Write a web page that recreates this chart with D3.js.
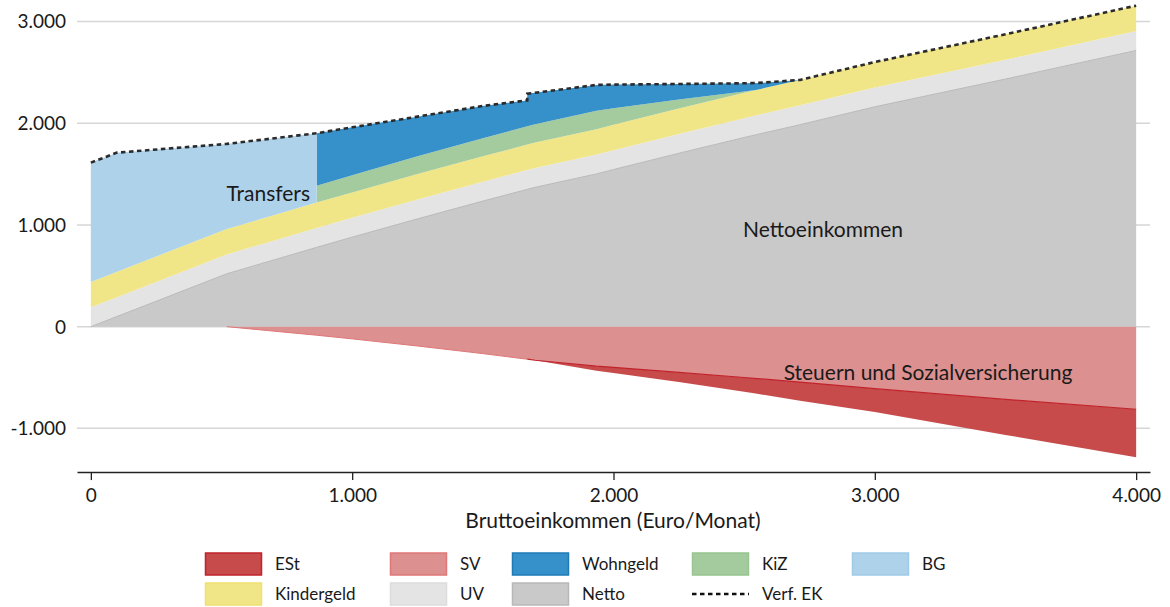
<!DOCTYPE html>
<html><head><meta charset="utf-8">
<script src="https://cdn.jsdelivr.net/npm/d3@7"></script>
<style>
html,body{margin:0;padding:0;background:#fff;}
svg text{font-family:Lato,"Open Sans",sans-serif;fill:#1a1a1a;}
</style></head>
<body>
<svg id="chart" width="1170" height="607"></svg>
<script>
// Bruttoeinkommen (Euro/Monat) – duplicate points mark jumps
const gross      = [0, 100, 520, 864, 864, 1000, 1250, 1500, 1670, 1670, 1700, 1935, 2000, 2250, 2500, 2550, 2714, 3000, 3500, 4000];
const netto      = [0, 100, 520, 780, 780,  880, 1060, 1235, 1350, 1350, 1370, 1502, 1545, 1705, 1860, 1890, 1986, 2162, 2435, 2716];
const uv         = [190,190,190,190,190,190,190,190,190,190,190,190,190,190,190,190,190,190,190,190];
const kindergeld = [250,250,250,250,250,250,250,250,250,250,250,250,250,250,250,250,250,250,250,250];
const kiz        = [0, 0, 0, 0, 166, 170, 175, 178, 180, 180, 180, 182, 162, 88, 12, 0, 0, 0, 0, 0];
const wohngeld   = [0, 0, 0, 0, 516, 470, 390, 317, 255, 320, 310, 253, 233, 153, 81, 66, 0, 0, 0, 0];
const bg         = [1173, 1171, 837, 682, 0, 0, 0, 0, 0, 0, 0, 0, 0, 0, 0, 0, 0, 0, 0, 0];
const sv         = [0, 0, 0, 84, 84, 120, 190, 265, 320, 320, 330, 388, 400, 450, 500, 510, 545, 610, 715, 812];
const est        = [0, 0, 0, 0, 0, 0, 0, 0, 0, 0, 0, 45, 55, 95, 140, 150, 183, 228, 350, 472];
const verfEK     = [1613, 1711, 1797, 1902, 1902, 1960, 2065, 2170, 2225, 2290, 2300, 2377, 2380, 2386, 2393, 2396, 2426, 2602, 2875, 3156];

const xTicks = [0, 1000, 2000, 3000, 4000];
const yTicks = [-1000, 0, 1000, 2000, 3000];

const posKeys = ["Netto","UV","Kindergeld","KiZ","Wohngeld","BG"];
const negKeys = ["SV","ESt"];
const fills = {Netto:"#c9c9c9",UV:"#e4e4e4",Kindergeld:"#f1e687",KiZ:"#a4cb9d",Wohngeld:"#3690c9",BG:"#aed2ea",SV:"#dc9090",ESt:"#c74b4b"};
const strokes = {Netto:"#b8b8b8",UV:"#dcdcdc",Kindergeld:"#efe070",KiZ:"#98c590",Wohngeld:"#1f7ab8",BG:"#9fcae6",SV:"#e07777",ESt:"#c0232b"};

const rows = gross.map((g,i)=>({g, Netto:netto[i], UV:uv[i], Kindergeld:kindergeld[i], KiZ:kiz[i], Wohngeld:wohngeld[i], BG:bg[i], SV:-sv[i], ESt:-est[i], V:verfEK[i]}));

const fmt = v => d3.format(",")(v).replace(/,/g,".").replace("−","-");

const svg = d3.select("#chart");
const x = d3.scaleLinear().domain([-53, 4053]).range([77, 1150]);
const y = d3.scaleLinear().domain([-1430, 3210]).range([472.1, 0.2]);

// gridlines
svg.append("g").selectAll("line").data(yTicks).join("line")
  .attr("x1", x.range()[0]).attr("x2", x.range()[1])
  .attr("y1", d=>y(d)).attr("y2", d=>y(d))
  .attr("stroke","#d6d6d6").attr("stroke-width",1.5);

// y labels
svg.append("g").selectAll("text").data(yTicks).join("text")
  .attr("x", 66).attr("y", d=>y(d)).attr("dy","0.36em")
  .attr("text-anchor","end").style("font-size","19px")
  .text(d=>fmt(d));

const posSeries = d3.stack().keys(posKeys)(rows);
const negSeries = d3.stack().keys(negKeys)(rows);
const area = d3.area().x(d=>x(d.data.g)).y0(d=>y(d[0])).y1(d=>y(d[1]));

svg.append("g").selectAll("path").data(posSeries.concat(negSeries)).join("path")
  .attr("d", area)
  .attr("fill", d=>fills[d.key]);

// edge lines
const nettoTop = posSeries[0];
svg.append("path").datum(nettoTop)
  .attr("d", d3.line().x(d=>x(d.data.g)).y(d=>y(d[1])))
  .attr("fill","none").attr("stroke","#b9b9b9").attr("stroke-width",1);
const estS = negSeries[1];
svg.append("path").datum(estS.filter(d=>d.data.g>=1670))
  .attr("d", d3.line().x(d=>x(d.data.g)).y(d=>y(d[0])))
  .attr("fill","none").attr("stroke",strokes.ESt).attr("stroke-width",1.2);
svg.append("path").datum(estS.filter(d=>d.data.g<=1670 && d.data.g>=520))
  .attr("d", d3.line().x(d=>x(d.data.g)).y(d=>y(d[0])))
  .attr("fill","none").attr("stroke",strokes.SV).attr("stroke-width",1);

// Verf. EK dashed line
svg.append("path").datum(rows)
  .attr("d", d3.line().x(d=>x(d.g)).y(d=>y(d.V)))
  .attr("fill","none").attr("stroke","#2b2b2b").attr("stroke-width",2.6)
  .attr("stroke-dasharray","4.5,3.5");

// x axis
const xAxis = d3.axisBottom(x).tickValues(xTicks).tickSize(8).tickSizeOuter(0).tickFormat(fmt);
const gx = svg.append("g").attr("transform",`translate(0,${y.range()[0]})`).call(xAxis);
gx.select(".domain").attr("stroke","#222").attr("stroke-width",1.5);
gx.selectAll(".tick line").attr("stroke","#222").attr("stroke-width",1.3);
gx.selectAll(".tick text").attr("y",16).style("font-size","19px").style("font-family","Lato,sans-serif").attr("fill","#1a1a1a");

svg.append("text").attr("x",613).attr("y",528).attr("text-anchor","middle")
  .style("font-size","21px").text("Bruttoeinkommen (Euro/Monat)");

// annotations
svg.append("text").attr("x",310).attr("y",201).attr("text-anchor","end").style("font-size","21px").text("Transfers");
svg.append("text").attr("x",823).attr("y",237).attr("text-anchor","middle").style("font-size","21px").text("Nettoeinkommen");
svg.append("text").attr("x",928).attr("y",380).attr("text-anchor","middle").style("font-size","21px").text("Steuern und Sozialversicherung");

// legend
const legendItems = [
  {k:"ESt", x:205, r:0},{k:"SV", x:390, r:0},{k:"Wohngeld", x:512, r:0},{k:"KiZ", x:692, r:0},{k:"BG", x:852, r:0},
  {k:"Kindergeld", x:205, r:1},{k:"UV", x:390, r:1},{k:"Netto", x:512, r:1},{k:"Verf. EK", x:692, r:1, line:true}
];
const rowY = [564, 594];
const lg = svg.append("g").selectAll("g").data(legendItems).join("g");
lg.filter(d=>!d.line).append("rect")
  .attr("x",d=>d.x+0.5).attr("y",d=>rowY[d.r]-11).attr("width",56).attr("height",22)
  .attr("fill",d=>fills[d.k]).attr("stroke",d=>strokes[d.k]).attr("stroke-width",1.5);
lg.filter(d=>d.line).append("line")
  .attr("x1",d=>d.x).attr("x2",d=>d.x+57).attr("y1",d=>rowY[d.r]).attr("y2",d=>rowY[d.r])
  .attr("stroke","#111").attr("stroke-width",2.6).attr("stroke-dasharray","4.5,3.5");
lg.append("text").attr("x",d=>d.x+70).attr("y",d=>rowY[d.r]).attr("dy","0.36em")
  .style("font-size","17px").text(d=>d.k);
</script>
</body></html>
